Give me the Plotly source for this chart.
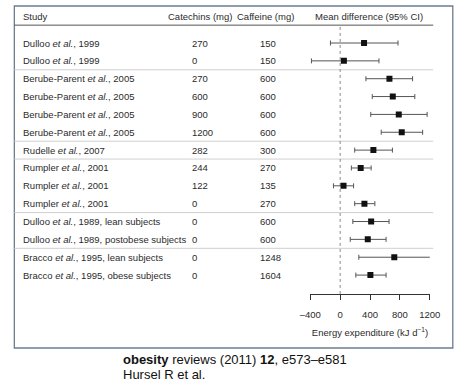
import plotly.graph_objects as go

studies = [
    "Dulloo <i>et al.</i>, 1999",
    "Dulloo <i>et al.</i>, 1999",
    "Berube-Parent <i>et al.</i>, 2005",
    "Berube-Parent <i>et al.</i>, 2005",
    "Berube-Parent <i>et al.</i>, 2005",
    "Berube-Parent <i>et al.</i>, 2005",
    "Rudelle <i>et al.</i>, 2007",
    "Rumpler <i>et al.</i>, 2001",
    "Rumpler <i>et al.</i>, 2001",
    "Rumpler <i>et al.</i>, 2001",
    "Dulloo <i>et al.</i>, 1989, lean subjects",
    "Dulloo <i>et al.</i>, 1989, postobese subjects",
    "Bracco <i>et al.</i>, 1995, lean subjects",
    "Bracco <i>et al.</i>, 1995, obese subjects",
]
catechins = [270, 0, 270, 600, 900, 1200, 282, 244, 122, 0, 0, 0, 0, 0]
caffeine = [150, 150, 600, 600, 600, 600, 300, 270, 135, 270, 600, 600, 1248, 1604]
mean_diff = [320, 50, 660, 705, 785, 825, 445, 275, 45, 325, 415, 370, 725, 405]
ci_low = [-130, -385, 345, 430, 410, 550, 195, 150, -90, 195, 170, 135, 250, 210]
ci_high = [775, 520, 970, 1000, 1165, 1105, 700, 415, 180, 465, 655, 615, 1210, 615]
x_ticks = [-400, 0, 400, 800, 1200]
x_tick_labels = ["\u2013400", "0", "400", "800", "1200"]
group_breaks = [1.5, 5.5, 6.5, 9.5, 11.5]

W, H = 470, 385
rows = list(range(len(studies)))
FONT = "Liberation Sans, Arial, sans-serif"
TXT = "#2b2b2b"
FS = 9.5

fig = go.Figure()
fig.add_trace(go.Scatter(
    x=mean_diff, y=rows, mode="markers",
    marker=dict(symbol="square", size=6, color="#111111"),
    error_x=dict(type="data", symmetric=False,
                 array=[h - m for h, m in zip(ci_high, mean_diff)],
                 arrayminus=[m - l for m, l in zip(mean_diff, ci_low)],
                 color="#555555", thickness=1, width=2.5),
    showlegend=False, hoverinfo="skip",
))

ann = []
def px(x):
    return x / W

# header
hy = -1.51
ann.append(dict(x=px(10), y=hy, xref="paper", yref="y", text="Study", xanchor="left", showarrow=False))
ann.append(dict(x=px(198), y=hy, xref="paper", yref="y", text="Catechins (mg)", xanchor="center", showarrow=False))
ann.append(dict(x=px(266.5), y=hy, xref="paper", yref="y", text="Caffeine (mg)", xanchor="center", showarrow=False))
ann.append(dict(x=px(376), y=hy, xref="paper", yref="y", text="Mean difference (95% CI)", xanchor="center", showarrow=False))

for i in rows:
    ann.append(dict(x=px(10), y=i, xref="paper", yref="y", text=studies[i], xanchor="left", showarrow=False))
    ann.append(dict(x=px(188), y=i, xref="paper", yref="y", text=str(catechins[i]), xanchor="left", showarrow=False))
    ann.append(dict(x=px(259.5), y=i, xref="paper", yref="y", text=str(caffeine[i]), xanchor="left", showarrow=False))

for a in ann:
    a["font"] = dict(family=FONT, size=FS, color=TXT)

ann.append(dict(x=px(115), y=1 - 359 / H, xref="paper", yref="paper",
                text="<b>obesity</b> reviews (2011) <b>12</b>, e573\u2013e581",
                xanchor="left", yanchor="middle", showarrow=False,
                font=dict(family=FONT, size=13, color="#111111")))
ann.append(dict(x=px(115), y=1 - 374 / H, xref="paper", yref="paper",
                text="Hursel R et al.",
                xanchor="left", yanchor="middle", showarrow=False,
                font=dict(family=FONT, size=13, color="#111111")))

shapes = []
# outer box
shapes.append(dict(type="rect", xref="paper", yref="paper",
                   x0=px(3.5), x1=px(463.5), y0=1 - 348 / H, y1=1 - 6 / H,
                   line=dict(color="#6b7d8f", width=1.3), layer="below"))
# header line
shapes.append(dict(type="line", xref="paper", yref="y", x0=px(3.5), x1=px(443),
                   y0=-1.0, y1=-1.0, line=dict(color="#555555", width=1)))
for b in group_breaks:
    shapes.append(dict(type="line", xref="paper", yref="y", x0=px(3.5), x1=px(443),
                       y0=b, y1=b, line=dict(color="#cfcfcf", width=1), layer="below"))
# zero line
shapes.append(dict(type="line", xref="x", yref="y", x0=0, x1=0, y0=-0.9, y1=14.06,
                   line=dict(color="#8a8a8a", width=1, dash="dot"), layer="below"))

fig.update_layout(
    width=W, height=H, margin=dict(l=0, r=0, t=0, b=0),
    paper_bgcolor="white", plot_bgcolor="white",
    annotations=ann, shapes=shapes,
    xaxis=dict(domain=[314 / W, 439.3 / W], range=[-400, 1200],
               tickvals=x_ticks, ticktext=x_tick_labels,
               showline=True, linecolor="#333333", linewidth=1,
               ticks="outside", ticklen=5, tickcolor="#333333",
               ticklabelstandoff=7,
               showgrid=False, zeroline=False,
               tickfont=dict(family=FONT, size=FS, color=TXT),
               title=dict(text="Energy expenditure (kJ d<sup>\u22121</sup>)", standoff=9,
                          font=dict(family=FONT, size=FS, color=TXT))),
    yaxis=dict(domain=[1 - 294 / H, 1], range=[14.06, -2.409], visible=False),
)

fig.write_html("out.html", config={"displayModeBar": False},
               post_script="document.body.style.margin='0';document.body.style.padding='0';")
